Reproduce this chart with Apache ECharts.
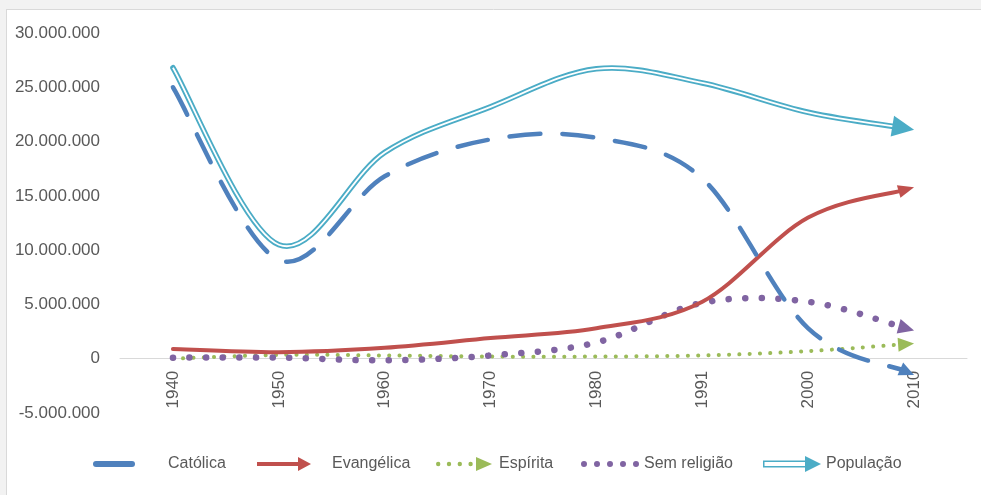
<!DOCTYPE html>
<html>
<head>
<meta charset="utf-8">
<script src="https://cdn.jsdelivr.net/npm/echarts@6/dist/echarts.min.js"></script>
<style>
html,body{margin:0;padding:0;background:#fff;}
#c{width:981px;height:495px;}
</style>
</head>
<body>
<div id="c"></div>
<script>
// ---- data ----
const years = ['1940', '1950', '1960', '1970', '1980', '1991', '2000', '2010'];
const catolica = [25000000, 9100000, 16800000, 20200000, 20350000, 16600000, 2800000, -1500000];
const evangelica = [900000, 600000, 1000000, 1900000, 2800000, 5250000, 13000000, 15800000];
const espirita = [0, 350000, 300000, 200000, 200000, 300000, 700000, 1400000];
const semReligiao = [100000, 100000, -150000, 300000, 1500000, 5150000, 5250000, 2600000];
const populacao = [26800000, 10500000, 19000000, 23200000, 26700000, 25400000, 22700000, 21100000];
const yTicks = { min: -5000000, max: 30000000, interval: 5000000 };

// ---- styles ----
const TXT = '#595959';
const FONT = 'Liberation Sans, Arial, sans-serif';
const GRID = { left: 120, right: 14, top: 33, bottom: 82 };
const C_CAT = '#4f81bd', C_EVA = '#c0504d', C_ESP = '#9bbb59', C_SEM = '#8064a2', C_POP = '#4bacc6';
const lineStyles = {
  cat: { arrow: { len: 15, width: 14, color: C_CAT }, strokes: [{ stroke: C_CAT, lineWidth: 4.5, lineDash: [31, 22], lineCap: 'round' }] },
  eva: { arrow: { len: 16, width: 13, color: C_EVA }, strokes: [{ stroke: C_EVA, lineWidth: 4, lineCap: 'round' }] },
  esp: { arrow: { len: 16, width: 14, color: C_ESP }, strokes: [{ stroke: C_ESP, lineWidth: 4, lineDash: [0.1, 10.2], lineCap: 'round' }] },
  sem: { arrow: { len: 16, width: 15, color: C_SEM }, strokes: [{ stroke: C_SEM, lineWidth: 6.5, lineDash: [0.1, 16.5], lineCap: 'round' }] },
  pop: { arrow: { len: 22, width: 21, color: C_POP }, strokes: [
    { stroke: C_POP, lineWidth: 5.5, lineCap: 'round', lineJoin: 'round' },
    { stroke: '#ffffff', lineWidth: 1.8, lineCap: 'butt' }
  ] }
};

function fmt(v) {
  const s = String(Math.abs(v)).replace(/\B(?=(\d{3})+(?!\d))/g, '.');
  return (v < 0 ? '-' : '') + s;
}
const plotH = 495 - GRID.top - GRID.bottom;
const zeroOffset = -plotH * (0 - yTicks.min) / (yTicks.max - yTicks.min);

// smooth (Catmull-Rom style) line with arrow head, positioned by the chart's own axes via api.coord
function makeRender(values, st) {
  return function (params, api) {
    if (params.dataIndex !== 0) return null;
    const P = values.map((v, i) => api.coord([i, v]));
    const n = P.length;
    const segs = [];
    for (let i = 0; i < n - 1; i++) {
      const p0 = P[Math.max(i - 1, 0)], p1 = P[i], p2 = P[i + 1], p3 = P[Math.min(i + 2, n - 1)];
      segs.push([
        [p1[0] + (p2[0] - p0[0]) / 6, p1[1] + (p2[1] - p0[1]) / 6],
        [p2[0] - (p3[0] - p1[0]) / 6, p2[1] - (p3[1] - p1[1]) / 6],
        [p2[0], p2[1]]
      ]);
    }
    const last = segs[n - 2];
    const end = P[n - 1];
    let dx = end[0] - last[1][0], dy = end[1] - last[1][1];
    const dl = Math.hypot(dx, dy) || 1; dx /= dl; dy /= dl;
    const L = st.arrow.len, W = st.arrow.width, cut = L * 0.6;
    last[1] = [last[1][0] - dx * cut, last[1][1] - dy * cut];
    last[2] = [end[0] - dx * cut, end[1] - dy * cut];
    let d = 'M' + P[0][0] + ' ' + P[0][1];
    segs.forEach(s => { d += ' C' + s[0][0] + ' ' + s[0][1] + ' ' + s[1][0] + ' ' + s[1][1] + ' ' + s[2][0] + ' ' + s[2][1]; });
    const children = st.strokes.map(s => ({
      type: 'path', shape: { pathData: d }, style: Object.assign({ fill: 'none' }, s)
    }));
    const base = [end[0] - dx * L, end[1] - dy * L];
    const px = -dy, py = dx;
    children.push({
      type: 'polygon',
      shape: { points: [[end[0], end[1]], [base[0] + px * W / 2, base[1] + py * W / 2], [base[0] - px * W / 2, base[1] - py * W / 2]] },
      style: { fill: st.arrow.color, stroke: null }
    });
    return { type: 'group', children: children };
  };
}
function lineSeries(name, values, st, color, z) {
  return {
    name: name, type: 'custom', silent: true, z: z,
    itemStyle: { color: color },
    encode: { x: 0, y: 1 },
    data: values.map((v, i) => [i, v]),
    renderItem: makeRender(values, st)
  };
}

const icons = {
  cat: 'path://M3 0 L39 0 Q42 0 42 3 Q42 6 39 6 L3 6 Q0 6 0 3 Q0 0 3 0 Z',
  eva: 'path://M0 5 L41 5 L41 0 L54 7 L41 14 L41 9 L0 9 Z',
  esp: 'path://M0 7 a2.2 2.2 0 1 0 4.4 0 a2.2 2.2 0 1 0 -4.4 0 Z M10.8 7 a2.2 2.2 0 1 0 4.4 0 a2.2 2.2 0 1 0 -4.4 0 Z M21.6 7 a2.2 2.2 0 1 0 4.4 0 a2.2 2.2 0 1 0 -4.4 0 Z M32.4 7 a2.2 2.2 0 1 0 4.4 0 a2.2 2.2 0 1 0 -4.4 0 Z M40 0 L56 7 L40 14 Z',
  sem: 'path://M0 3 a3 3 0 1 0 6 0 a3 3 0 1 0 -6 0 Z M13 3 a3 3 0 1 0 6 0 a3 3 0 1 0 -6 0 Z M26 3 a3 3 0 1 0 6 0 a3 3 0 1 0 -6 0 Z M39 3 a3 3 0 1 0 6 0 a3 3 0 1 0 -6 0 Z M52 3 a3 3 0 1 0 6 0 a3 3 0 1 0 -6 0 Z',
  pop: 'path://M0 4.5 L42 4.5 L42 6 L1.5 6 L1.5 10 L42 10 L42 11.5 L0 11.5 Z M42 0 L58 8 L42 16 Z'
};
function legendFor(name, icon, left, w, h, pad) {
  return {
    data: [{ name: name, icon: icon }],
    left: left,
    top: 464 - Math.max(h, 16) / 2,
    padding: 0,
    itemWidth: w,
    itemHeight: h,
    selectedMode: false,
    itemStyle: { borderWidth: 0 },
    formatter: '{t|{name}}',
    textStyle: {
      color: TXT, fontSize: 16, fontFamily: FONT,
      rich: { t: { color: TXT, fontSize: 16, fontFamily: FONT, padding: [0, 0, 0, pad] } }
    }
  };
}

const chart = echarts.init(document.getElementById('c'));
chart.setOption({
  animation: false,
  backgroundColor: '#ffffff',
  graphic: [
    { type: 'rect', shape: { x: 0, y: 0, width: 981, height: 9 }, style: { fill: '#f2f2f2' }, silent: true },
    { type: 'rect', shape: { x: 0, y: 0, width: 6, height: 495 }, style: { fill: '#f2f2f2' }, silent: true },
    { type: 'line', shape: { x1: 6, y1: 9.5, x2: 981, y2: 9.5 }, style: { stroke: '#d9d9d9', lineWidth: 1 }, silent: true },
    { type: 'line', shape: { x1: 6.5, y1: 9, x2: 6.5, y2: 495 }, style: { stroke: '#d9d9d9', lineWidth: 1 }, silent: true }
  ],
  grid: { left: GRID.left, right: GRID.right, top: GRID.top, bottom: GRID.bottom, containLabel: false },
  legend: [
    legendFor('Católica', icons.cat, 93, 42, 6, 28),
    legendFor('Evangélica', icons.eva, 257, 54, 14, 16),
    legendFor('Espírita', icons.esp, 436, 56, 14, 2),
    legendFor('Sem religião', icons.sem, 581, 58, 6, 0),
    legendFor('População', icons.pop, 763, 58, 16, 0)
  ],
  xAxis: {
    type: 'category',
    data: years,
    boundaryGap: true,
    position: 'bottom',
    offset: zeroOffset,
    axisLine: { show: true, onZero: false, lineStyle: { color: '#d9d9d9', width: 1 } },
    axisTick: { show: false },
    axisLabel: { rotate: 90, margin: 12, color: TXT, fontSize: 17, fontFamily: FONT },
    splitLine: { show: false }
  },
  yAxis: {
    type: 'value',
    min: yTicks.min, max: yTicks.max, interval: yTicks.interval,
    axisLine: { show: false },
    axisTick: { show: false },
    splitLine: { show: false },
    axisLabel: { margin: 20, color: TXT, fontSize: 17, fontFamily: FONT, formatter: fmt }
  },
  series: [
    lineSeries('População', populacao, lineStyles.pop, C_POP, 2),
    lineSeries('Espírita', espirita, lineStyles.esp, C_ESP, 3),
    lineSeries('Sem religião', semReligiao, lineStyles.sem, C_SEM, 3),
    lineSeries('Evangélica', evangelica, lineStyles.eva, C_EVA, 4),
    lineSeries('Católica', catolica, lineStyles.cat, C_CAT, 5)
  ]
});
</script>
</body>
</html>
